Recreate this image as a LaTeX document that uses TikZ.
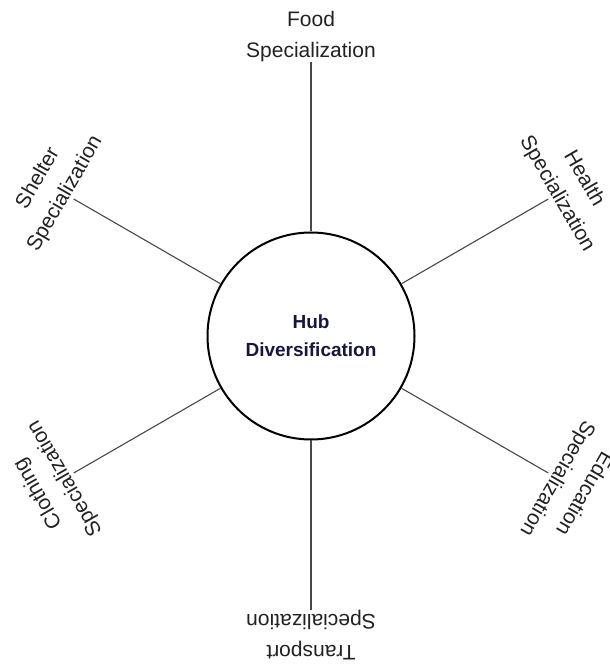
\documentclass[tikz,border=0pt]{standalone}
\usepackage{fontspec}
\setmainfont{Liberation Sans}
\usetikzlibrary{calc}

\definecolor{hubtext}{RGB}{22,22,62}
\definecolor{labeltext}{RGB}{34,34,34}
\definecolor{spokegray}{RGB}{72,72,72}

\tikzset{
  hub/.style={circle, draw=black, line width=2pt, minimum size=207pt,
    inner sep=0pt, align=center, text=hubtext,
    font=\bfseries\fontsize{19}{28}\selectfont},
  spoke/.style={draw=spokegray, line width=1.1pt},
  leaf/.style={anchor=south, inner sep=0pt, outer sep=0pt, align=center,
    text=labeltext, font=\fontsize{21}{31}\selectfont}
}

\begin{document}
\begin{tikzpicture}[x=1pt,y=1pt]
  \useasboundingbox (0,0) rectangle (610,664);

  % central hub
  \node[hub] (hub) at (311,328) {Hub\\Diversification};

  % six spokes, each with its label turned to face outwards
  \foreach \name/\ang/\word in {food/90/Food, health/30/Health,
      edu/330/Education, trans/270/Transport,
      cloth/210/Clothing, shelter/150/Shelter} {
    \coordinate (\name-end) at ($(hub.center)+(\ang:274pt)$);
    \draw[spoke] (hub.\ang) -- (\name-end);
    \node[leaf, rotate=\ang-90] (\name) at (\name-end) {\word\\Specialization};
  }
\end{tikzpicture}
\end{document}
